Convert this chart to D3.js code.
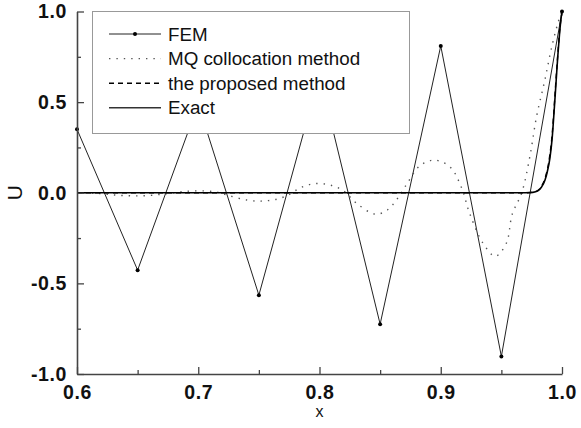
<!DOCTYPE html>
<html>
<head>
<meta charset="utf-8">
<script src="https://cdn.jsdelivr.net/npm/d3@7"></script>
<style>
    body { margin: 0; background: #fff; }
    text { font-family: "Liberation Sans", Arial, Helvetica, sans-serif; }
</style>
</head>
<body>
<svg id="drawing_region"></svg>
<script>
// FEM nodal values
const fem_x = [0.60, 0.65, 0.70, 0.75, 0.80, 0.85, 0.90, 0.95, 1.00];
const fem_u = [0.35, -0.427, 0.49, -0.565, 0.65, -0.725, 0.81, -0.903, 1.00];

// MQ collocation method (dotted)
const mq_x = [0.600, 0.615, 0.630, 0.645, 0.660, 0.675, 0.690, 0.705, 0.715, 0.725, 0.740, 0.752, 0.765, 0.775,
    0.785, 0.797, 0.810, 0.820, 0.830, 0.846, 0.856, 0.864, 0.872, 0.883, 0.895, 0.908, 0.917, 0.924,
    0.935, 0.945, 0.954, 0.959, 0.9668, 0.9735, 0.979, 0.9858, 0.9914, 0.9968, 1.000];
const mq_u = [0.000, -0.002, -0.012, -0.017, -0.015, -0.004, 0.008, 0.010, 0.004, -0.015, -0.040, -0.046, -0.035, -0.010,
    0.030, 0.051, 0.040, 0.010, -0.055, -0.118, -0.095, -0.035, 0.048, 0.150, 0.180, 0.140, 0.030, -0.117,
    -0.280, -0.350, -0.280, -0.117, 0.000, 0.200, 0.420, 0.620, 0.800, 0.940, 1.000];

// the proposed method (dashed)
const proposed_x = [0.600, 0.970, 0.976, 0.980, 0.983, 0.986, 0.988, 0.990, 0.992, 0.9935, 0.995, 0.9965, 0.998, 0.999, 1.000];
const proposed_u = [0.000, 0.000, 0.003, 0.012, 0.035, 0.080, 0.130, 0.210, 0.330, 0.470, 0.620, 0.760, 0.890, 0.950, 0.990];

// exact solution (solid)
const exact_x = [0.600, 0.970, 0.976, 0.980, 0.983, 0.986, 0.988, 0.990, 0.992, 0.9935, 0.995, 0.9965, 0.998, 0.999, 1.000];
const exact_u = [0.000, 0.000, 0.002, 0.010, 0.030, 0.070, 0.120, 0.190, 0.310, 0.450, 0.600, 0.750, 0.880, 0.950, 1.000];

const x_ticks = [0.6, 0.7, 0.8, 0.9, 1.0];
const x_minor = [0.65, 0.75, 0.85, 0.95];
const y_ticks = [-1.0, -0.5, 0.0, 0.5, 1.0];
const y_minor = [-0.75, -0.25, 0.25, 0.75];
const legend_labels = ['FEM', 'MQ collocation method', 'the proposed method', 'Exact'];

class LineChart {

    constructor(config) {
        this.config = config;
        this.init();
    }

    init() {
        let self = this;
        const m = self.config.margin;

        self.svg = d3.select(self.config.parent)
            .attr('width', self.config.width)
            .attr('height', self.config.height);

        self.inner_width = self.config.width - m.left - m.right;
        self.inner_height = self.config.height - m.top - m.bottom;

        self.chart = self.svg.append('g')
            .attr('transform', `translate(${m.left}, ${m.top})`);

        self.xscale = d3.scaleLinear().domain([0.6, 1.0]).range([0, self.inner_width]);
        self.yscale = d3.scaleLinear().domain([-1.0, 1.0]).range([self.inner_height, 0]);

        self.line = d3.line()
            .x(d => self.xscale(d[0]))
            .y(d => self.yscale(d[1]));
    }

    update() {
        let self = this;
        self.render();
    }

    render() {
        let self = this;
        const zip = (xs, ys) => xs.map((x, i) => [x, ys[i]]);
        const fmt = d => d.toFixed(1);

        // FEM
        self.chart.append('path')
            .attr('d', self.line.curve(d3.curveLinear)(zip(fem_x, fem_u)))
            .attr('fill', 'none')
            .attr('stroke', '#222')
            .attr('stroke-width', 1);
        self.chart.selectAll('.fem_dot')
            .data(zip(fem_x, fem_u))
            .enter()
            .append('circle')
            .attr('cx', d => self.xscale(d[0]))
            .attr('cy', d => self.yscale(d[1]))
            .attr('r', 2)
            .attr('fill', '#000');

        // MQ
        self.chart.append('path')
            .attr('d', self.line.curve(d3.curveCatmullRom)(zip(mq_x, mq_u)))
            .attr('fill', 'none')
            .attr('stroke', '#555')
            .attr('stroke-width', 1.4)
            .attr('stroke-dasharray', '1.4,6');

        // proposed
        self.chart.append('path')
            .attr('d', self.line.curve(d3.curveMonotoneX)(zip(proposed_x, proposed_u)))
            .attr('fill', 'none')
            .attr('stroke', '#000')
            .attr('stroke-width', 1.4)
            .attr('stroke-dasharray', '5,4');

        // exact
        self.chart.append('path')
            .attr('d', self.line.curve(d3.curveMonotoneX)(zip(exact_x, exact_u)))
            .attr('fill', 'none')
            .attr('stroke', '#000')
            .attr('stroke-width', 1.6);

        // axes
        const xaxis = self.chart.append('g')
            .attr('transform', `translate(0, ${self.inner_height})`)
            .call(d3.axisBottom(self.xscale).tickValues(x_ticks).tickFormat(fmt)
                .tickSizeInner(-7).tickSizeOuter(0).tickPadding(11));
        self.chart.append('g')
            .attr('transform', `translate(0, ${self.inner_height})`)
            .call(d3.axisBottom(self.xscale).tickValues(x_minor).tickFormat('')
                .tickSizeInner(-4).tickSizeOuter(0))
            .select('.domain').remove();

        const yaxis = self.chart.append('g')
            .call(d3.axisLeft(self.yscale).tickValues(y_ticks).tickFormat(fmt)
                .tickSizeInner(-7).tickSizeOuter(0).tickPadding(10));
        self.chart.append('g')
            .call(d3.axisLeft(self.yscale).tickValues(y_minor).tickFormat('')
                .tickSizeInner(-4).tickSizeOuter(0))
            .select('.domain').remove();

        self.chart.selectAll('.domain').attr('stroke', '#444').attr('stroke-width', 1.6);
        self.chart.selectAll('.tick line').attr('stroke', '#444').attr('stroke-width', 1.3);
        [xaxis, yaxis].forEach(a => a.selectAll('.tick text')
            .attr('font-size', 19.5).attr('font-weight', 'bold').attr('fill', '#111')
            .attr('letter-spacing', 0.6)
            .attr('font-family', '"Liberation Sans", Arial, sans-serif'));

        // axis labels
        self.chart.append('text')
            .attr('x', self.inner_width / 2)
            .attr('y', self.inner_height + 43)
            .attr('text-anchor', 'middle')
            .attr('font-size', 16)
            .attr('fill', '#111')
            .text('x');
        self.chart.append('text')
            .attr('transform', `translate(${-self.config.margin.left + 22}, ${self.yscale(0)}) rotate(-90)`)
            .attr('text-anchor', 'middle')
            .attr('font-size', 21)
            .attr('fill', '#111')
            .text('U');

        // legend
        const legend = self.chart.append('g')
            .attr('transform', `translate(${92.5 - self.config.margin.left}, ${11.5 - self.config.margin.top})`);
        legend.append('rect')
            .attr('width', 317)
            .attr('height', 122)
            .attr('fill', '#fff')
            .attr('stroke', '#999')
            .attr('stroke-width', 1);

        const styles = [
            { stroke: '#222', width: 1, dash: null },
            { stroke: '#555', width: 1.4, dash: '1.4,6' },
            { stroke: '#000', width: 1.4, dash: '5,4' },
            { stroke: '#333', width: 1.6, dash: null }
        ];
        legend_labels.forEach((label, i) => {
            const y = 22.5 + i * 24.6;
            legend.append('line')
                .attr('x1', 16.5).attr('x2', 68.5)
                .attr('y1', y).attr('y2', y)
                .attr('stroke', styles[i].stroke)
                .attr('stroke-width', styles[i].width)
                .attr('stroke-dasharray', styles[i].dash);
            if (i === 0) {
                legend.append('circle').attr('cx', 42.5).attr('cy', y).attr('r', 2).attr('fill', '#000');
            }
            legend.append('text')
                .attr('x', 75.5)
                .attr('y', y)
                .attr('dy', '0.35em')
                .attr('font-size', 18.8)
                .attr('fill', '#111')
                .text(label);
        });
    }
}

var config = {
    parent: '#drawing_region',
    width: 581,
    height: 428,
    margin: { top: 11.5, right: 19, bottom: 54, left: 77 }
};

const chart = new LineChart(config);
chart.update();
</script>
</body>
</html>
